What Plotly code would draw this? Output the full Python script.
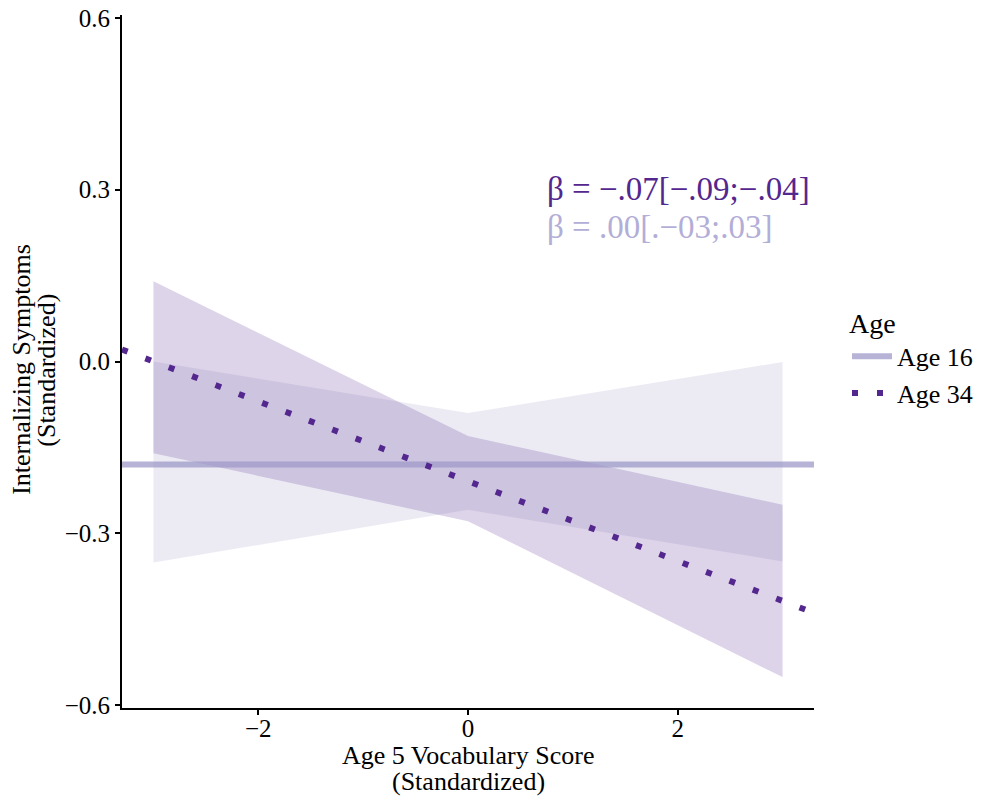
import plotly.graph_objects as go

# ---- data ----
ribbon_x = [-3, 0, 3]
age16_upper = [0.000, -0.090, -0.001]
age16_lower = [-0.351, -0.259, -0.349]
age34_upper = [0.140, -0.130, -0.250]
age34_lower = [-0.160, -0.279, -0.551]

line_x = [-3.3, 3.3]
age16_fit = [-0.180, -0.180]
age34_fit = [0.021, -0.439]

x_ticks = [-2, 0, 2]
y_ticks = [-0.6, -0.3, 0.0, 0.3, 0.6]
y_tick_labels = ["\u22120.6", "\u22120.3", "0.0", "0.3", "0.6"]
x_tick_labels = ["\u22122", "0", "2"]

beta_text_34 = "\u03b2 = \u2212.07[\u2212.09;\u2212.04]"
beta_text_16 = "\u03b2 = .00[.\u221203;.03]"

x_title = ["Age 5 Vocabulary Score", "(Standardized)"]
y_title = ["Internalizing Symptoms", "(Standardized)"]

DARK = "#54278f"
FONT = "Liberation Serif"

fig = go.Figure()

# Ribbons
fig.add_trace(go.Scatter(
    x=ribbon_x + ribbon_x[::-1], y=age16_upper + age16_lower[::-1],
    fill="toself", fillcolor="rgba(158,154,200,0.2)", line=dict(width=0),
    mode="lines", hoverinfo="skip", showlegend=False))
fig.add_trace(go.Scatter(
    x=ribbon_x + ribbon_x[::-1], y=age34_upper + age34_lower[::-1],
    fill="toself", fillcolor="rgba(84,39,143,0.2)", line=dict(width=0),
    mode="lines", hoverinfo="skip", showlegend=False))

# Lines
fig.add_trace(go.Scatter(
    x=line_x, y=age16_fit, mode="lines", name="Age 16",
    line=dict(color="rgba(158,154,200,0.75)", width=6)))
fig.add_trace(go.Scatter(
    x=line_x, y=age34_fit, mode="lines", name="Age 34",
    line=dict(color=DARK, width=6, dash="6px,19px")))

fig.add_annotation(x=0.73, y=0.302, text=beta_text_34, showarrow=False,
                   xanchor="left", yanchor="middle",
                   font=dict(family=FONT, size=33, color=DARK))
fig.add_annotation(x=0.73, y=0.234, text=beta_text_16, showarrow=False,
                   xanchor="left", yanchor="middle",
                   font=dict(family=FONT, size=33, color="#b3aed7"))

# Axis titles (two tightly spaced lines each)
fig.add_annotation(xref="paper", yref="paper", x=0.5, y=-0.068,
                   text=x_title[0], showarrow=False, xanchor="center", yanchor="middle",
                   font=dict(family=FONT, size=26, color="black"))
fig.add_annotation(xref="paper", yref="paper", x=0.5, y=-0.1065,
                   text=x_title[1], showarrow=False, xanchor="center", yanchor="middle",
                   font=dict(family=FONT, size=26, color="black"))
fig.add_annotation(xref="paper", yref="paper", x=-0.1445, y=0.488,
                   text=y_title[0], showarrow=False, xanchor="center", yanchor="middle",
                   textangle=-90, font=dict(family=FONT, size=26, color="black"))
fig.add_annotation(xref="paper", yref="paper", x=-0.1085, y=0.488,
                   text=y_title[1], showarrow=False, xanchor="center", yanchor="middle",
                   textangle=-90, font=dict(family=FONT, size=26, color="black"))

fig.update_layout(
    width=984, height=788,
    margin=dict(l=114, r=178, t=7, b=88),
    paper_bgcolor="white", plot_bgcolor="white",
    font=dict(family=FONT, size=25, color="black"),
    legend=dict(
        title=dict(text="Age", font=dict(size=28)),
        font=dict(size=26),
        x=1.0477, xanchor="left", y=0.594, yanchor="top",
        tracegroupgap=0, itemwidth=40,
    ),
    showlegend=True,
)

fig.update_xaxes(
    range=[-3.3, 3.3], tickvals=x_ticks, ticktext=x_tick_labels,
    showgrid=False, zeroline=False, showline=True, linecolor="black", linewidth=2,
    ticks="outside", ticklen=5, tickwidth=1.5, tickcolor="black",
    tickfont=dict(size=25), automargin=False, ticklabeloverflow="allow",
    ticklabelstandoff=-8,
)
fig.update_yaxes(
    range=[-0.605, 0.605], tickvals=y_ticks, ticktext=y_tick_labels,
    showgrid=False, zeroline=False, showline=True, linecolor="black", linewidth=2,
    ticks="outside", ticklen=5, tickwidth=1.5, tickcolor="black",
    tickfont=dict(size=25), automargin=False, ticklabeloverflow="allow",
)

fig.write_html("out.html")
